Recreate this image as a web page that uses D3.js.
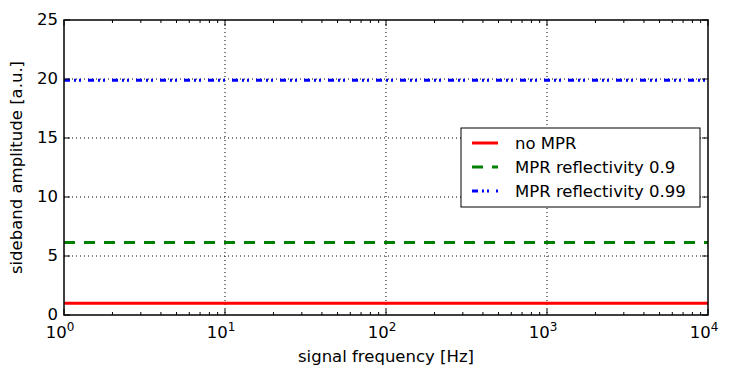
<!DOCTYPE html>
<html>
<head>
<meta charset="utf-8">
<script src="https://cdn.jsdelivr.net/npm/d3@7"></script>
<style>
  body { margin: 0; background: #fff; }
  svg text { font-family: "DejaVu Sans", sans-serif; fill: #000; }
</style>
</head>
<body>
<svg id="chart" width="736" height="377"></svg>
<script>
// Chart data
const freqRange = [1, 10000];
const seriesNames = ['no MPR', 'MPR reflectivity 0.9', 'MPR reflectivity 0.99'];
const seriesValues = [1.0, 6.15, 19.9];
const seriesColors = ['#ff0000', '#008000', '#0000ff'];
const seriesDash = [null, '11,9', '6,4,2,3,2,7'];
const yTicks = [0, 5, 10, 15, 20, 25];
const xTicks = [1, 10, 100, 1000, 10000];

const margin = {top: 20, right: 28, bottom: 62, left: 64};
const svg = d3.select('#chart');
const width = +svg.attr('width') - margin.left - margin.right;
const height = +svg.attr('height') - margin.top - margin.bottom;
const fs = 16.5;

const g = svg.append('g').attr('transform', `translate(${margin.left},${margin.top})`);

const x = d3.scaleLog().domain(freqRange).range([0, width]);
const y = d3.scaleLinear().domain([0, 25]).range([height, 0]);

// Grid
g.selectAll('.vgrid').data(xTicks.slice(1, -1)).enter().append('line')
  .attr('x1', d => x(d)).attr('x2', d => x(d))
  .attr('y1', 0).attr('y2', height)
  .attr('stroke', '#000').attr('stroke-width', 1).attr('stroke-dasharray', '1,3');
g.selectAll('.hgrid').data(yTicks.slice(1, -1)).enter().append('line')
  .attr('x1', 0).attr('x2', width)
  .attr('y1', d => y(d)).attr('y2', d => y(d))
  .attr('stroke', '#000').attr('stroke-width', 1).attr('stroke-dasharray', '1,3');

// Series
const line = d3.line().x(d => x(d[0])).y(d => y(d[1]));
seriesValues.forEach((v, i) => {
  g.append('path')
    .datum([[freqRange[0], v], [freqRange[1], v]])
    .attr('d', line)
    .attr('fill', 'none')
    .attr('stroke', seriesColors[i])
    .attr('stroke-width', 3)
    .attr('stroke-dasharray', seriesDash[i]);
});

// Minor log ticks
const minor = [];
for (let p = 0; p < 4; p++) for (let k = 2; k <= 9; k++) minor.push(k * Math.pow(10, p));
[0, height].forEach((yy, j) => {
  const dir = j === 0 ? 1 : -1;
  g.selectAll(null).data(minor).enter().append('line')
    .attr('x1', d => x(d)).attr('x2', d => x(d))
    .attr('y1', yy).attr('y2', yy + dir * 3)
    .attr('stroke', '#000').attr('stroke-width', 1);
  g.selectAll(null).data(xTicks).enter().append('line')
    .attr('x1', d => x(d)).attr('x2', d => x(d))
    .attr('y1', yy).attr('y2', yy + dir * 6)
    .attr('stroke', '#000').attr('stroke-width', 1);
});
[0, width].forEach((xx, j) => {
  const dir = j === 0 ? 1 : -1;
  g.selectAll(null).data(yTicks).enter().append('line')
    .attr('x1', xx).attr('x2', xx + dir * 6)
    .attr('y1', d => y(d)).attr('y2', d => y(d))
    .attr('stroke', '#000').attr('stroke-width', 1);
});

// Frame
g.append('rect').attr('width', width).attr('height', height)
  .attr('fill', 'none').attr('stroke', '#000').attr('stroke-width', 1.5);

// Y tick labels
g.selectAll('.ylab').data(yTicks).enter().append('text')
  .attr('x', -6).attr('y', d => y(d) + 5)
  .attr('text-anchor', 'end').attr('font-size', fs)
  .text(d => d);

// X tick labels 10^n
const xl = g.selectAll('.xlab').data(xTicks).enter().append('text')
  .attr('x', d => x(d) - 4).attr('y', height + 23)
  .attr('text-anchor', 'middle').attr('font-size', fs);
xl.append('tspan').text('10');
xl.append('tspan').attr('dy', -7).attr('font-size', 12).text(d => Math.round(Math.log10(d)));

// Axis titles
g.append('text')
  .attr('x', width / 2).attr('y', height + 47)
  .attr('text-anchor', 'middle').attr('font-size', fs)
  .text('signal frequency [Hz]');
g.append('text')
  .attr('transform', `translate(${-42},${height / 2}) rotate(-90)`)
  .attr('text-anchor', 'middle').attr('font-size', fs)
  .text('sideband amplitude [a.u.]');

// Legend
const legend = g.append('g').attr('transform', `translate(${461 - margin.left},${128 - margin.top})`);
legend.append('rect').attr('width', 239).attr('height', 79)
  .attr('fill', '#fff').attr('stroke', '#000').attr('stroke-width', 1);
seriesNames.forEach((name, i) => {
  const ly = 15 + i * 24;
  legend.append('line')
    .attr('x1', 11).attr('x2', 37).attr('y1', ly).attr('y2', ly)
    .attr('stroke', seriesColors[i]).attr('stroke-width', 3)
    .attr('stroke-dasharray', seriesDash[i]);
  legend.append('text')
    .attr('x', 54).attr('y', ly + 6).attr('font-size', fs)
    .text(name);
});
</script>
</body>
</html>
